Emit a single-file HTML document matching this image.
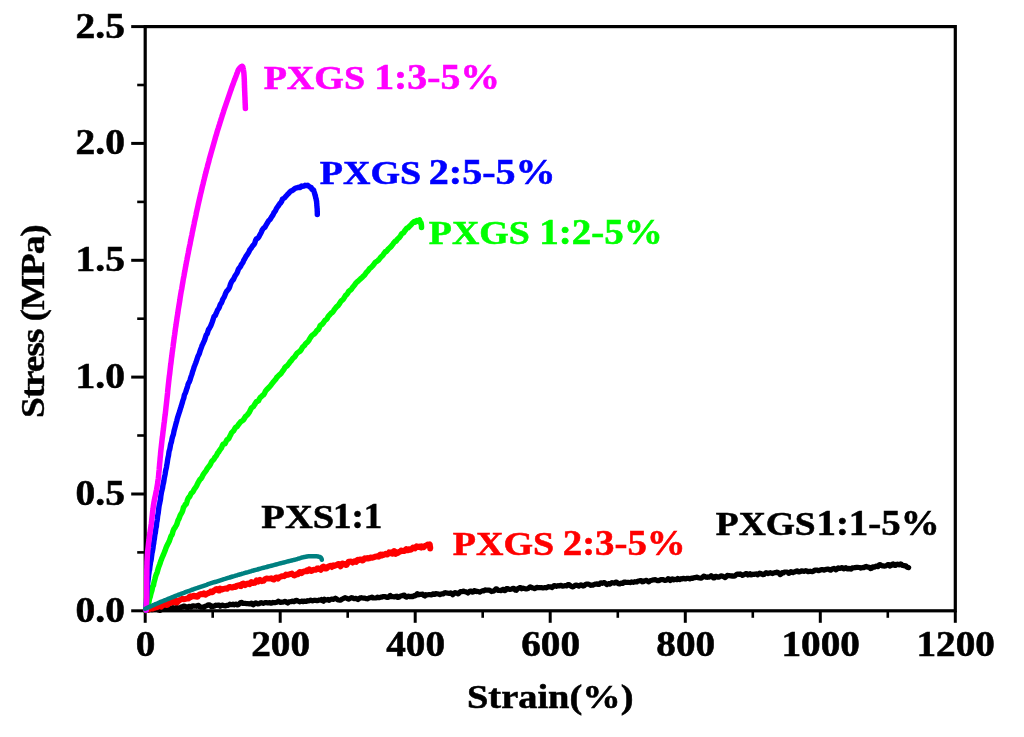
<!DOCTYPE html>
<html><head><meta charset="utf-8"><title>Stress-Strain</title>
<style>
html,body{margin:0;padding:0;background:#fff;}
svg{display:block;font-family:"Liberation Serif",serif;font-weight:bold;will-change:transform;}
</style></head><body>
<svg width="1024" height="737" viewBox="0 0 1024 737">
<rect width="1024" height="737" fill="#fff"/>
<rect x="145.2" y="26.6" width="810.1" height="584.2" fill="none" stroke="#000" stroke-width="3.2"/>
<line x1="145.2" y1="610.8" x2="145.2" y2="622.8" stroke="#000" stroke-width="3"/>
<line x1="212.7" y1="610.8" x2="212.7" y2="617.8" stroke="#000" stroke-width="2.6"/>
<line x1="280.2" y1="610.8" x2="280.2" y2="622.8" stroke="#000" stroke-width="3"/>
<line x1="347.7" y1="610.8" x2="347.7" y2="617.8" stroke="#000" stroke-width="2.6"/>
<line x1="415.2" y1="610.8" x2="415.2" y2="622.8" stroke="#000" stroke-width="3"/>
<line x1="482.7" y1="610.8" x2="482.7" y2="617.8" stroke="#000" stroke-width="2.6"/>
<line x1="550.2" y1="610.8" x2="550.2" y2="622.8" stroke="#000" stroke-width="3"/>
<line x1="617.8" y1="610.8" x2="617.8" y2="617.8" stroke="#000" stroke-width="2.6"/>
<line x1="685.3" y1="610.8" x2="685.3" y2="622.8" stroke="#000" stroke-width="3"/>
<line x1="752.8" y1="610.8" x2="752.8" y2="617.8" stroke="#000" stroke-width="2.6"/>
<line x1="820.3" y1="610.8" x2="820.3" y2="622.8" stroke="#000" stroke-width="3"/>
<line x1="887.8" y1="610.8" x2="887.8" y2="617.8" stroke="#000" stroke-width="2.6"/>
<line x1="955.3" y1="610.8" x2="955.3" y2="622.8" stroke="#000" stroke-width="3"/>
<line x1="145.2" y1="610.8" x2="131.2" y2="610.8" stroke="#000" stroke-width="3"/>
<line x1="145.2" y1="552.4" x2="137.2" y2="552.4" stroke="#000" stroke-width="2.6"/>
<line x1="145.2" y1="494.0" x2="131.2" y2="494.0" stroke="#000" stroke-width="3"/>
<line x1="145.2" y1="435.5" x2="137.2" y2="435.5" stroke="#000" stroke-width="2.6"/>
<line x1="145.2" y1="377.1" x2="131.2" y2="377.1" stroke="#000" stroke-width="3"/>
<line x1="145.2" y1="318.7" x2="137.2" y2="318.7" stroke="#000" stroke-width="2.6"/>
<line x1="145.2" y1="260.3" x2="131.2" y2="260.3" stroke="#000" stroke-width="3"/>
<line x1="145.2" y1="201.9" x2="137.2" y2="201.9" stroke="#000" stroke-width="2.6"/>
<line x1="145.2" y1="143.4" x2="131.2" y2="143.4" stroke="#000" stroke-width="3"/>
<line x1="145.2" y1="85.0" x2="137.2" y2="85.0" stroke="#000" stroke-width="2.6"/>
<line x1="145.2" y1="26.6" x2="131.2" y2="26.6" stroke="#000" stroke-width="3"/>
<text transform="translate(145.60,655.90) scale(1.1075,1)" font-size="35.4" fill="#000" stroke="#000" stroke-width="0.55" text-anchor="middle" >0</text>
<text transform="translate(280.62,655.90) scale(1.1075,1)" font-size="35.4" fill="#000" stroke="#000" stroke-width="0.55" text-anchor="middle" >200</text>
<text transform="translate(415.63,655.90) scale(1.1075,1)" font-size="35.4" fill="#000" stroke="#000" stroke-width="0.55" text-anchor="middle" >400</text>
<text transform="translate(550.65,655.90) scale(1.1075,1)" font-size="35.4" fill="#000" stroke="#000" stroke-width="0.55" text-anchor="middle" >600</text>
<text transform="translate(685.67,655.90) scale(1.1075,1)" font-size="35.4" fill="#000" stroke="#000" stroke-width="0.55" text-anchor="middle" >800</text>
<text transform="translate(820.68,655.90) scale(1.1075,1)" font-size="35.4" fill="#000" stroke="#000" stroke-width="0.55" text-anchor="middle" >1000</text>
<text transform="translate(955.70,655.90) scale(1.1075,1)" font-size="35.4" fill="#000" stroke="#000" stroke-width="0.55" text-anchor="middle" >1200</text>
<text transform="translate(124.90,621.70) scale(1.1158,1)" font-size="35.4" fill="#000" stroke="#000" stroke-width="0.55" text-anchor="end" >0.0</text>
<text transform="translate(124.90,504.86) scale(1.1158,1)" font-size="35.4" fill="#000" stroke="#000" stroke-width="0.55" text-anchor="end" >0.5</text>
<text transform="translate(124.90,388.02) scale(1.1158,1)" font-size="35.4" fill="#000" stroke="#000" stroke-width="0.55" text-anchor="end" >1.0</text>
<text transform="translate(124.90,271.18) scale(1.1158,1)" font-size="35.4" fill="#000" stroke="#000" stroke-width="0.55" text-anchor="end" >1.5</text>
<text transform="translate(124.90,154.34) scale(1.1158,1)" font-size="35.4" fill="#000" stroke="#000" stroke-width="0.55" text-anchor="end" >2.0</text>
<text transform="translate(124.90,37.50) scale(1.1158,1)" font-size="35.4" fill="#000" stroke="#000" stroke-width="0.55" text-anchor="end" >2.5</text>
<text transform="translate(467.00,707.80) scale(1.13,1)" font-size="34" fill="#000" stroke="#000" stroke-width="0.55" text-anchor="start" >Strain(%)</text>
<text transform="translate(44.2,321.7) rotate(-90) scale(1,0.92)" font-size="37.5" text-anchor="middle" letter-spacing="-1.15" stroke="#000" stroke-width="0.4">Stress (MPa)</text>
<text transform="translate(263.65,88.90) scale(1.1234,1)" font-size="33.85" fill="#ff00ff" stroke="#ff00ff" stroke-width="0.55" text-anchor="start" >PXGS</text>
<text transform="translate(374.25,88.90) scale(1.1232,1)" font-size="35.39" fill="#ff00ff" stroke="#ff00ff" stroke-width="0.55" text-anchor="start" >1:3-5%</text>
<text transform="translate(319.85,184.30) scale(1.1234,1)" font-size="33.85" fill="#0000ff" stroke="#0000ff" stroke-width="0.55" text-anchor="start" >PXGS</text>
<text transform="translate(428.75,184.30) scale(1.1329,1)" font-size="35.39" fill="#0000ff" stroke="#0000ff" stroke-width="0.55" text-anchor="start" >2:5-5%</text>
<text transform="translate(428.80,244.10) scale(1.0953,1)" font-size="34.6" fill="#00ff00" stroke="#00ff00" stroke-width="0.55" text-anchor="start" >PXGS</text>
<text transform="translate(539.25,244.10) scale(1.0783,1)" font-size="36.17" fill="#00ff00" stroke="#00ff00" stroke-width="0.55" text-anchor="start" >1:2-5%</text>
<text transform="translate(261.35,527.60) scale(1.1106,1)" font-size="34.7" fill="#000" stroke="#000" stroke-width="0.55" text-anchor="start" >PXS</text>
<text transform="translate(333.00,527.60) scale(1.0199,1)" font-size="36.28" fill="#000" stroke="#000" stroke-width="0.55" text-anchor="start" >1:1</text>
<text transform="translate(452.80,555.30) scale(1.0995,1)" font-size="34.6" fill="#ff0000" stroke="#ff0000" stroke-width="0.55" text-anchor="start" >PXGS</text>
<text transform="translate(562.75,555.30) scale(1.0744,1)" font-size="36.17" fill="#ff0000" stroke="#ff0000" stroke-width="0.55" text-anchor="start" >2:3-5%</text>
<text transform="translate(715.75,534.80) scale(1.1254,1)" font-size="33.3" fill="#000" stroke="#000" stroke-width="0.55" text-anchor="start" >PXGS</text>
<text transform="translate(816.50,534.80) scale(1.1167,1)" font-size="34.81" fill="#000" stroke="#000" stroke-width="0.55" text-anchor="start" >1:1-5%</text>
<path d="M145.9,610.5 L147.0,610.4 L148.0,610.3 L149.1,609.4 L150.2,609.2 L151.3,609.7 L152.3,609.7 L153.4,609.5 L154.5,609.4 L155.6,609.4 L156.6,608.8 L157.7,609.3 L158.8,610.1 L159.9,610.4 L160.9,609.9 L162.0,608.9 L163.1,608.6 L164.2,608.0 L165.2,608.6 L166.3,608.7 L167.4,607.7 L168.5,608.0 L169.5,609.0 L170.6,609.1 L171.7,608.0 L172.8,607.5 L173.8,608.1 L174.9,608.3 L176.0,607.6 L177.1,607.5 L178.1,608.1 L179.2,608.9 L180.3,608.0 L181.4,606.8 L182.5,606.9 L183.5,606.1 L184.6,606.0 L185.7,606.5 L186.8,607.3 L187.8,607.6 L188.9,606.4 L190.0,606.6 L191.1,607.1 L192.1,606.0 L193.2,605.8 L194.3,606.2 L195.4,606.1 L196.4,606.3 L197.5,605.6 L198.6,605.4 L199.7,606.7 L200.7,607.1 L201.8,607.1 L202.9,607.2 L204.0,607.3 L205.1,606.2 L206.1,605.9 L207.2,605.5 L208.3,604.8 L209.4,604.8 L210.4,605.4 L211.5,606.7 L212.6,606.1 L213.7,606.3 L214.7,606.0 L215.8,605.2 L216.9,605.5 L218.0,605.0 L219.1,605.0 L220.1,606.2 L221.2,605.6 L222.3,605.1 L223.4,605.4 L224.4,605.7 L225.5,605.9 L226.6,605.4 L227.7,605.4 L228.7,605.1 L229.8,604.2 L230.9,604.6 L232.0,604.6 L233.1,604.1 L234.1,604.8 L235.2,604.3 L236.3,604.1 L237.4,604.9 L238.4,604.7 L239.5,603.8 L240.6,602.5 L241.7,602.4 L242.7,603.4 L243.8,603.5 L244.9,603.3 L246.0,603.6 L247.1,603.7 L248.1,603.5 L249.2,604.0 L250.3,603.6 L251.4,603.1 L252.4,604.3 L253.5,604.8 L254.6,603.3 L255.7,602.8 L256.8,603.5 L257.8,604.0 L258.9,603.8 L260.0,603.0 L261.1,602.6 L262.1,603.0 L263.2,603.4 L264.3,602.9 L265.4,602.6 L266.4,602.6 L267.5,602.9 L268.6,602.8 L269.7,602.6 L270.8,603.2 L271.8,603.2 L272.9,602.4 L274.0,602.7 L275.1,602.7 L276.1,602.3 L277.2,602.2 L278.3,601.2 L279.4,601.6 L280.5,602.4 L281.5,602.2 L282.6,602.1 L283.7,601.9 L284.8,601.4 L285.8,601.5 L286.9,602.6 L288.0,603.0 L289.1,601.9 L290.1,601.7 L291.2,601.7 L292.3,601.2 L293.4,601.7 L294.5,601.6 L295.5,600.5 L296.6,600.3 L297.7,601.0 L298.8,601.4 L299.8,601.8 L300.9,601.4 L302.0,601.1 L303.1,601.6 L304.2,601.1 L305.2,601.3 L306.3,601.5 L307.4,600.7 L308.5,600.9 L309.5,600.7 L310.6,600.2 L311.7,600.7 L312.8,600.8 L313.9,600.4 L314.9,600.2 L316.0,600.4 L317.1,600.7 L318.2,600.4 L319.2,600.0 L320.3,600.1 L321.4,599.5 L322.5,600.7 L323.5,601.2 L324.6,599.3 L325.7,599.9 L326.8,600.0 L327.9,599.5 L328.9,600.3 L330.0,599.8 L331.1,599.2 L332.2,599.2 L333.2,599.3 L334.3,598.8 L335.4,598.2 L336.5,598.8 L337.6,599.7 L338.6,600.0 L339.7,600.2 L340.8,600.2 L341.9,599.2 L342.9,598.8 L344.0,598.1 L345.1,597.7 L346.2,598.1 L347.3,598.5 L348.3,599.2 L349.4,598.8 L350.5,598.2 L351.6,597.7 L352.6,597.9 L353.7,598.6 L354.8,598.7 L355.9,598.3 L356.9,598.9 L358.0,599.6 L359.1,598.7 L360.2,597.9 L361.3,597.7 L362.3,598.0 L363.4,598.1 L364.5,598.1 L365.6,598.4 L366.6,598.7 L367.7,598.8 L368.8,598.1 L369.9,597.8 L370.9,597.6 L372.0,597.1 L373.1,598.0 L374.2,598.0 L375.3,598.0 L376.3,598.0 L377.4,597.2 L378.5,597.7 L379.6,597.6 L380.6,597.2 L381.7,597.1 L382.8,596.6 L383.9,596.6 L385.0,596.5 L386.0,597.2 L387.1,597.3 L388.2,597.3 L389.3,596.2 L390.3,595.4 L391.4,596.7 L392.5,596.5 L393.6,596.7 L394.6,597.0 L395.7,596.4 L396.8,596.2 L397.9,597.5 L399.0,597.3 L400.0,596.2 L401.1,595.9 L402.2,595.7 L403.3,595.3 L404.3,595.1 L405.4,596.6 L406.5,597.1 L407.6,596.3 L408.6,596.2 L409.7,596.7 L410.8,596.4 L411.9,596.4 L413.0,596.6 L414.0,595.7 L415.1,595.9 L416.2,594.8 L417.3,593.7 L418.3,594.8 L419.4,594.6 L420.5,594.3 L421.6,594.4 L422.6,594.1 L423.7,595.5 L424.8,596.0 L425.9,594.7 L427.0,595.0 L428.0,594.8 L429.1,594.6 L430.2,594.8 L431.3,595.0 L432.3,594.2 L433.4,593.8 L434.5,594.4 L435.6,593.5 L436.6,593.8 L437.7,593.9 L438.8,594.0 L439.9,594.6 L441.0,594.1 L442.0,593.9 L443.1,593.9 L444.2,593.0 L445.3,592.6 L446.3,593.0 L447.4,593.1 L448.5,593.3 L449.6,593.3 L450.6,592.9 L451.7,593.4 L452.8,594.7 L453.9,593.7 L454.9,592.7 L456.0,592.8 L457.1,593.3 L458.2,593.9 L459.3,592.8 L460.3,591.7 L461.4,591.7 L462.5,591.4 L463.6,591.1 L464.6,591.6 L465.7,591.8 L466.8,592.2 L467.9,593.0 L468.9,591.9 L470.0,591.0 L471.1,591.1 L472.2,592.1 L473.3,591.9 L474.3,590.6 L475.4,590.9 L476.5,591.6 L477.6,591.3 L478.6,591.7 L479.7,592.1 L480.8,591.5 L481.9,591.0 L482.9,590.7 L484.0,590.9 L485.1,589.9 L486.2,590.0 L487.3,590.2 L488.3,590.0 L489.4,590.0 L490.5,590.9 L491.6,591.6 L492.6,591.0 L493.7,591.2 L494.8,590.2 L495.9,588.8 L496.9,589.1 L498.0,590.4 L499.1,590.5 L500.2,590.4 L501.2,590.7 L502.3,589.7 L503.4,589.3 L504.5,590.7 L505.6,590.3 L506.6,588.5 L507.7,588.6 L508.8,589.2 L509.9,589.4 L510.9,589.2 L512.0,589.0 L513.1,588.3 L514.2,588.6 L515.2,590.1 L516.3,590.3 L517.4,588.9 L518.5,588.4 L519.6,587.7 L520.6,587.6 L521.7,588.8 L522.8,588.2 L523.9,588.3 L524.9,588.7 L526.0,588.9 L527.1,588.8 L528.2,588.5 L529.2,587.5 L530.3,586.9 L531.4,587.4 L532.5,588.0 L533.6,588.1 L534.6,588.6 L535.7,588.1 L536.8,587.3 L537.9,587.7 L538.9,587.7 L540.0,587.7 L541.1,587.5 L542.2,587.8 L543.2,587.9 L544.3,587.7 L545.4,587.7 L546.5,587.8 L547.5,587.2 L548.6,586.7 L549.7,587.0 L550.8,586.8 L551.9,587.5 L552.9,586.8 L554.0,585.7 L555.1,585.7 L556.2,586.3 L557.2,585.8 L558.3,585.7 L559.4,585.9 L560.5,585.3 L561.5,585.6 L562.6,586.2 L563.7,586.0 L564.8,585.6 L565.9,585.8 L566.9,585.8 L568.0,584.6 L569.1,584.5 L570.2,585.6 L571.2,586.2 L572.3,586.9 L573.4,586.7 L574.5,585.8 L575.5,585.0 L576.6,585.0 L577.7,585.6 L578.8,586.1 L579.8,585.3 L580.9,584.8 L582.0,585.4 L583.1,586.1 L584.2,585.8 L585.2,584.7 L586.3,584.2 L587.4,584.2 L588.5,584.2 L589.5,584.6 L590.6,585.3 L591.7,585.2 L592.8,585.2 L593.8,584.6 L594.9,584.2 L596.0,584.1 L597.1,583.9 L598.2,584.5 L599.2,584.4 L600.3,583.1 L601.4,582.9 L602.5,583.3 L603.5,582.7 L604.6,582.6 L605.7,583.6 L606.8,584.6 L607.8,583.9 L608.9,583.6 L610.0,584.2 L611.1,583.2 L612.1,582.6 L613.2,583.0 L614.3,583.1 L615.4,582.3 L616.5,582.0 L617.5,583.1 L618.6,583.7 L619.7,584.0 L620.8,583.2 L621.8,583.2 L622.9,583.5 L624.0,582.1 L625.1,582.1 L626.1,582.4 L627.2,582.3 L628.3,582.3 L629.4,582.5 L630.5,582.6 L631.5,581.9 L632.6,582.2 L633.7,582.3 L634.8,581.7 L635.8,582.0 L636.9,582.0 L638.0,581.1 L639.1,581.0 L640.1,580.6 L641.2,580.5 L642.3,581.8 L643.4,581.6 L644.4,580.8 L645.5,580.6 L646.6,580.3 L647.7,581.3 L648.8,581.9 L649.8,580.9 L650.9,580.5 L652.0,580.3 L653.1,579.9 L654.1,579.8 L655.2,579.7 L656.3,580.2 L657.4,580.7 L658.4,580.7 L659.5,580.3 L660.6,579.5 L661.7,579.5 L662.8,579.6 L663.8,579.9 L664.9,580.5 L666.0,580.3 L667.1,579.9 L668.1,578.7 L669.2,579.2 L670.3,580.5 L671.4,579.3 L672.4,578.8 L673.5,579.9 L674.6,579.3 L675.7,579.5 L676.7,579.7 L677.8,578.4 L678.9,579.1 L680.0,579.6 L681.1,578.7 L682.1,578.9 L683.2,578.3 L684.3,578.6 L685.4,579.0 L686.4,578.3 L687.5,578.4 L688.6,578.4 L689.7,578.9 L690.7,578.3 L691.8,578.2 L692.9,578.3 L694.0,577.6 L695.0,577.6 L696.1,577.4 L697.2,577.1 L698.3,577.8 L699.4,578.0 L700.4,578.1 L701.5,578.2 L702.6,577.2 L703.7,576.2 L704.7,576.3 L705.8,577.1 L706.9,577.3 L708.0,576.8 L709.0,577.2 L710.1,576.7 L711.2,575.7 L712.3,576.4 L713.4,577.8 L714.4,577.9 L715.5,576.4 L716.6,576.4 L717.7,577.1 L718.7,577.2 L719.8,576.6 L720.9,575.8 L722.0,576.0 L723.0,576.4 L724.1,577.0 L725.2,577.6 L726.3,576.6 L727.3,575.4 L728.4,575.6 L729.5,575.7 L730.6,575.8 L731.7,576.1 L732.7,575.9 L733.8,576.2 L734.9,576.0 L736.0,574.9 L737.0,574.2 L738.1,574.2 L739.2,574.3 L740.3,573.9 L741.3,574.5 L742.4,575.3 L743.5,574.8 L744.6,574.3 L745.6,573.7 L746.7,573.6 L747.8,575.0 L748.9,574.4 L750.0,573.6 L751.0,574.8 L752.1,574.7 L753.2,574.2 L754.3,574.4 L755.3,574.0 L756.4,573.9 L757.5,574.9 L758.6,574.1 L759.6,573.1 L760.7,573.5 L761.8,574.2 L762.9,574.7 L763.9,574.5 L765.0,573.5 L766.1,572.7 L767.2,573.0 L768.3,573.6 L769.3,573.0 L770.4,572.7 L771.5,573.3 L772.6,573.6 L773.6,573.0 L774.7,572.7 L775.8,572.6 L776.9,572.1 L777.9,572.5 L779.0,573.2 L780.1,574.6 L781.2,574.0 L782.2,572.7 L783.3,573.0 L784.4,572.1 L785.5,572.0 L786.6,572.0 L787.6,572.2 L788.7,573.3 L789.8,572.8 L790.9,571.7 L791.9,572.2 L793.0,572.6 L794.1,571.8 L795.2,571.9 L796.2,571.0 L797.3,570.9 L798.4,572.0 L799.5,571.9 L800.5,571.5 L801.6,570.8 L802.7,571.0 L803.8,571.4 L804.9,571.1 L805.9,570.7 L807.0,571.0 L808.1,571.7 L809.2,571.4 L810.2,571.2 L811.3,571.5 L812.4,571.7 L813.5,571.2 L814.5,570.3 L815.6,570.0 L816.7,570.0 L817.8,570.4 L818.8,570.7 L819.9,570.2 L821.0,569.8 L822.1,569.5 L823.2,569.9 L824.2,570.1 L825.3,569.6 L826.4,569.4 L827.5,569.1 L828.5,569.0 L829.6,569.8 L830.7,570.2 L831.8,569.3 L832.8,568.7 L833.9,568.4 L835.0,569.0 L836.1,569.9 L837.1,569.0 L838.2,567.8 L839.3,568.3 L840.4,568.3 L841.5,567.6 L842.5,567.8 L843.6,568.8 L844.7,568.0 L845.8,567.7 L846.8,568.7 L847.9,569.0 L849.0,568.3 L850.1,568.8 L851.1,569.2 L852.2,567.8 L853.3,567.9 L854.4,567.7 L855.4,567.6 L856.5,567.4 L857.6,567.3 L858.7,567.5 L859.8,567.6 L860.8,568.1 L861.9,567.7 L863.0,567.4 L864.1,567.6 L865.1,566.7 L866.2,566.4 L867.3,567.2 L868.4,567.2 L869.4,567.3 L870.5,568.6 L871.6,568.2 L872.7,566.9 L873.7,566.9 L874.8,567.1 L875.9,566.1 L877.0,566.1 L878.0,566.6 L879.1,564.8 L880.2,564.6 L881.3,565.4 L882.4,565.9 L883.4,565.9 L884.5,566.1 L885.6,566.0 L886.7,565.5 L887.7,564.6 L888.8,564.7 L889.9,566.0 L891.0,565.6 L892.0,564.3 L893.1,563.8 L894.2,565.2 L895.3,565.5 L896.3,564.4 L897.4,564.2 L898.5,564.7 L899.3,564.8 L900.0,564.2 L900.8,563.9 L901.5,564.3 L902.2,565.4 L902.9,565.5 L903.6,565.6 L904.3,565.8 L905.0,565.6 L905.6,565.8 L906.2,566.1 L906.8,566.8 L907.4,567.4 L908.0,567.3 L908.6,567.6" fill="none" stroke="#000" stroke-width="5.2" stroke-linecap="round" stroke-linejoin="round"/>
<path d="M145.9,610.3 L146.7,610.0 L147.6,609.8 L148.4,609.4 L149.3,609.4 L150.1,608.0 L151.0,607.6 L151.8,608.4 L152.7,608.6 L153.5,607.5 L154.4,607.4 L155.2,607.7 L156.0,607.3 L156.9,607.3 L157.7,606.2 L158.6,606.0 L159.4,606.0 L160.3,606.3 L161.1,606.7 L162.0,605.7 L162.8,604.6 L163.7,604.4 L164.5,604.7 L165.4,603.8 L166.2,604.6 L167.1,605.1 L167.9,604.6 L168.8,603.6 L169.6,603.3 L170.5,603.0 L171.3,601.6 L172.2,602.3 L173.0,602.4 L173.9,600.7 L174.7,599.9 L175.6,601.2 L176.4,602.6 L177.3,602.4 L178.1,600.9 L179.0,600.6 L179.8,600.0 L180.7,599.6 L181.5,599.2 L182.4,598.8 L183.3,599.1 L184.1,599.3 L185.0,599.0 L185.8,598.9 L186.7,598.7 L187.5,598.3 L188.4,598.6 L189.2,597.0 L190.1,596.4 L190.9,597.1 L191.8,596.5 L192.7,596.3 L193.5,595.7 L194.4,595.7 L195.2,596.5 L196.1,596.1 L196.9,596.8 L197.8,596.6 L198.6,595.2 L199.5,594.5 L200.4,594.4 L201.2,594.0 L202.1,594.3 L202.9,594.2 L203.8,593.4 L204.6,594.5 L205.5,594.8 L206.4,593.7 L207.2,593.6 L208.1,593.3 L208.9,592.7 L209.8,592.6 L210.7,591.5 L211.5,591.5 L212.4,592.2 L213.2,591.6 L214.1,590.4 L215.0,590.1 L215.8,589.3 L216.7,589.0 L217.5,589.4 L218.4,590.5 L219.3,590.6 L220.1,588.6 L221.0,589.1 L221.9,589.6 L222.7,589.0 L223.6,589.0 L224.4,588.8 L225.3,588.4 L226.2,588.5 L227.0,588.8 L227.9,587.9 L228.8,587.3 L229.6,586.9 L230.5,586.9 L231.3,587.6 L232.2,587.6 L233.1,587.3 L233.9,586.7 L234.8,587.0 L235.7,586.8 L236.5,585.8 L237.4,585.6 L238.3,585.4 L239.1,585.3 L240.0,586.0 L240.9,586.2 L241.7,584.2 L242.6,583.6 L243.5,583.5 L244.3,584.0 L245.2,585.2 L246.1,584.3 L246.9,583.8 L247.8,583.7 L248.7,583.4 L249.5,584.2 L250.4,583.6 L251.3,582.0 L252.1,582.3 L253.0,583.0 L253.9,582.8 L254.7,582.9 L255.6,582.0 L256.5,580.4 L257.3,581.0 L258.2,581.6 L259.1,580.3 L259.9,579.8 L260.8,580.7 L261.7,581.2 L262.5,580.6 L263.4,580.8 L264.3,580.1 L265.1,579.0 L266.0,578.7 L266.9,578.5 L267.7,578.6 L268.6,578.6 L269.5,578.6 L270.3,578.6 L271.2,578.3 L272.1,578.7 L272.9,579.3 L273.8,579.6 L274.7,578.7 L275.5,577.9 L276.4,577.4 L277.3,577.6 L278.1,578.5 L279.0,577.5 L279.9,576.9 L280.7,576.9 L281.6,576.3 L282.5,576.3 L283.4,576.0 L284.2,576.2 L285.1,575.5 L286.0,574.5 L286.8,575.0 L287.7,574.7 L288.6,574.7 L289.4,574.3 L290.3,574.0 L291.2,573.9 L292.0,573.6 L292.9,574.4 L293.8,575.4 L294.6,575.5 L295.5,575.0 L296.4,574.3 L297.2,574.4 L298.1,574.1 L299.0,572.7 L299.8,572.0 L300.7,572.1 L301.6,573.1 L302.4,572.5 L303.3,571.6 L304.2,571.5 L305.0,571.3 L305.9,571.1 L306.8,570.4 L307.6,571.2 L308.5,570.7 L309.4,569.4 L310.3,570.4 L311.1,571.1 L312.0,570.7 L312.9,569.9 L313.7,569.8 L314.6,569.6 L315.5,569.9 L316.3,569.6 L317.2,568.5 L318.1,568.3 L318.9,568.7 L319.8,569.3 L320.7,569.9 L321.5,568.9 L322.4,567.2 L323.3,566.5 L324.1,568.1 L325.0,568.4 L325.9,567.4 L326.7,568.4 L327.6,567.6 L328.5,566.4 L329.3,566.3 L330.2,565.7 L331.1,566.2 L331.9,567.0 L332.8,565.5 L333.7,565.3 L334.5,565.9 L335.4,565.4 L336.3,565.4 L337.1,564.5 L338.0,564.0 L338.9,564.0 L339.7,564.9 L340.6,566.3 L341.5,565.2 L342.3,563.4 L343.2,563.7 L344.1,564.0 L344.9,564.1 L345.8,565.0 L346.7,564.8 L347.5,563.4 L348.4,561.9 L349.3,561.6 L350.1,561.8 L351.0,561.5 L351.8,562.0 L352.7,562.6 L353.6,561.8 L354.4,561.1 L355.3,561.2 L356.2,561.9 L357.0,560.4 L357.9,559.7 L358.8,560.3 L359.6,559.6 L360.5,559.4 L361.4,559.7 L362.2,560.6 L363.1,560.3 L364.0,559.0 L364.8,558.2 L365.7,558.6 L366.6,558.6 L367.4,558.0 L368.3,558.5 L369.1,558.4 L370.0,557.7 L370.9,557.4 L371.7,557.8 L372.6,557.7 L373.5,557.2 L374.3,557.2 L375.2,556.7 L376.1,556.5 L376.9,556.3 L377.8,556.5 L378.7,556.7 L379.5,555.1 L380.4,554.5 L381.2,555.7 L382.1,555.5 L383.0,554.6 L383.8,555.0 L384.7,554.5 L385.6,553.8 L386.4,554.4 L387.3,554.6 L388.1,553.6 L389.0,552.4 L389.9,553.4 L390.7,553.4 L391.6,552.5 L392.5,553.8 L393.3,553.5 L394.2,551.0 L395.0,552.4 L395.9,553.8 L396.8,552.3 L397.6,553.0 L398.5,552.6 L399.3,551.7 L400.2,551.6 L401.1,550.5 L401.9,550.6 L402.8,551.0 L403.7,551.1 L404.5,551.0 L405.4,549.9 L406.2,549.1 L407.1,550.1 L408.0,550.3 L408.8,549.1 L409.7,549.3 L410.6,549.8 L411.4,549.5 L412.3,548.4 L413.1,547.4 L414.0,547.8 L414.9,548.4 L415.7,547.3 L416.6,546.3 L417.5,546.6 L418.3,547.1 L419.2,546.5 L420.1,547.2 L421.0,547.6 L421.8,546.4 L422.7,547.3 L423.6,547.2 L424.4,546.3 L425.3,545.8 L426.2,545.5 L427.1,544.9 L427.9,544.5 L428.8,544.9 L429.7,544.4 L429.8,545.1 L429.8,546.1 L429.9,544.9 L429.9,545.3 L430.0,546.0 L430.0,546.2 L430.1,546.5 L430.1,546.3 L430.2,547.1 L430.2,548.5 L430.3,547.8" fill="none" stroke="#ff0000" stroke-width="5.9" stroke-linecap="round" stroke-linejoin="round"/>
<path d="M146.0,610.3 L146.5,608.8 L147.1,607.3 L147.6,606.6 L148.1,604.2 L148.5,603.3 L149.0,601.5 L149.4,599.2 L149.8,598.0 L150.3,596.6 L150.7,594.5 L151.1,593.0 L151.5,591.8 L151.9,590.5 L152.3,588.5 L152.7,586.5 L153.1,586.0 L153.5,585.3 L153.9,582.9 L154.4,580.9 L154.8,579.5 L155.3,577.5 L155.7,576.0 L156.2,574.6 L156.6,573.8 L157.1,572.6 L157.6,570.8 L158.1,568.9 L158.6,567.3 L159.1,565.9 L159.6,564.7 L160.2,563.0 L160.7,561.2 L161.3,559.9 L161.8,558.4 L162.4,557.0 L163.0,555.6 L163.5,554.5 L164.1,553.0 L164.7,551.6 L165.3,550.0 L166.0,547.8 L166.6,546.5 L167.2,545.3 L167.8,543.9 L168.5,542.8 L169.1,541.6 L169.7,539.9 L170.4,537.9 L171.0,536.2 L171.6,535.4 L172.3,534.0 L172.9,531.6 L173.6,529.8 L174.2,528.6 L174.9,527.8 L175.5,526.5 L176.2,525.5 L176.8,524.3 L177.5,522.1 L178.1,520.2 L178.8,519.1 L179.4,517.7 L180.1,515.6 L180.7,514.4 L181.4,513.3 L182.1,512.1 L182.7,510.6 L183.4,507.7 L184.1,506.5 L184.8,505.5 L185.4,504.3 L186.2,504.2 L186.9,502.0 L187.6,499.6 L188.4,497.8 L189.1,497.2 L189.9,496.2 L190.7,494.3 L191.5,492.9 L192.4,492.5 L193.2,491.4 L194.1,489.5 L194.9,488.3 L195.8,487.1 L196.6,485.8 L197.5,483.9 L198.4,482.1 L199.2,480.8 L200.1,479.2 L201.0,478.6 L201.9,477.3 L202.7,475.5 L203.6,474.1 L204.5,472.6 L205.3,471.8 L206.2,470.5 L207.1,468.7 L207.9,467.7 L208.8,466.7 L209.7,465.5 L210.6,464.1 L211.5,461.8 L212.3,460.7 L213.2,460.1 L214.1,458.9 L215.0,457.1 L215.9,456.4 L216.8,454.9 L217.7,453.0 L218.6,452.1 L219.5,450.4 L220.4,449.3 L221.4,448.1 L222.3,445.7 L223.2,444.1 L224.1,443.8 L225.1,443.7 L226.0,441.7 L227.0,439.6 L227.9,439.4 L228.9,438.3 L229.8,436.4 L230.8,434.4 L231.7,432.6 L232.7,431.6 L233.6,430.8 L234.6,429.0 L235.6,427.3 L236.6,426.9 L237.5,426.1 L238.5,424.5 L239.5,423.2 L240.5,422.0 L241.5,421.2 L242.4,420.8 L243.4,419.9 L244.4,418.4 L245.4,416.6 L246.4,415.7 L247.4,414.8 L248.4,413.5 L249.4,412.1 L250.4,410.1 L251.4,407.9 L252.4,407.2 L253.4,406.5 L254.4,404.9 L255.4,403.4 L256.4,401.7 L257.5,401.3 L258.5,400.7 L259.5,398.6 L260.5,397.3 L261.5,396.6 L262.5,395.4 L263.5,394.8 L264.5,393.4 L265.6,390.9 L266.6,389.7 L267.6,388.7 L268.6,387.7 L269.6,386.7 L270.7,385.5 L271.7,384.0 L272.7,382.8 L273.7,381.5 L274.7,380.4 L275.8,379.2 L276.8,377.4 L277.8,376.5 L278.8,375.4 L279.9,374.5 L280.9,373.7 L281.9,372.1 L282.9,370.8 L284.0,369.4 L285.0,367.3 L286.0,366.5 L287.1,365.9 L288.1,364.5 L289.1,363.4 L290.1,361.8 L291.2,360.7 L292.2,359.2 L293.2,358.0 L294.3,357.3 L295.3,356.0 L296.3,354.2 L297.4,352.9 L298.4,352.2 L299.4,351.6 L300.5,350.6 L301.5,349.1 L302.5,347.2 L303.6,346.2 L304.6,345.4 L305.6,343.7 L306.6,342.8 L307.7,341.9 L308.7,340.6 L309.7,338.7 L310.8,337.1 L311.8,335.7 L312.8,334.8 L313.9,334.2 L314.9,333.2 L315.9,332.0 L316.9,330.4 L318.0,329.8 L319.0,328.4 L320.0,325.9 L321.1,324.9 L322.1,324.3 L323.1,323.2 L324.1,321.6 L325.2,320.1 L326.2,319.6 L327.2,318.5 L328.2,316.4 L329.3,315.3 L330.3,314.2 L331.3,313.0 L332.3,312.5 L333.4,311.2 L334.4,309.5 L335.4,308.3 L336.4,307.0 L337.4,306.2 L338.4,305.2 L339.5,303.6 L340.5,301.8 L341.5,300.7 L342.5,300.1 L343.5,298.9 L344.5,297.3 L345.6,295.4 L346.6,294.6 L347.6,293.5 L348.6,291.5 L349.7,290.6 L350.7,289.9 L351.7,288.8 L352.7,287.3 L353.8,286.0 L354.8,284.8 L355.9,283.1 L356.9,282.0 L358.0,281.2 L359.0,280.3 L360.1,279.3 L361.1,278.3 L362.2,277.4 L363.3,276.2 L364.4,275.2 L365.4,273.9 L366.5,272.3 L367.6,271.3 L368.7,269.9 L369.8,268.3 L370.9,267.7 L372.0,266.5 L373.1,265.3 L374.2,263.9 L375.3,262.3 L376.4,261.7 L377.5,260.9 L378.6,260.0 L379.7,258.6 L380.8,257.1 L381.9,256.2 L383.0,255.1 L384.1,253.3 L385.2,251.8 L386.3,251.6 L387.4,250.2 L388.5,248.8 L389.6,247.9 L390.7,246.9 L391.8,245.6 L392.9,244.1 L394.0,242.5 L395.1,241.3 L396.2,241.2 L397.2,239.5 L398.3,238.4 L399.4,237.5 L400.5,235.9 L401.5,234.0 L402.6,233.2 L403.7,232.7 L404.7,230.9 L405.8,229.6 L406.8,228.2 L407.9,227.9 L409.0,226.9 L410.1,225.7 L411.2,224.6 L412.3,223.3 L413.5,222.1 L414.1,221.6 L414.8,222.3 L415.4,222.0 L416.1,221.0 L416.7,220.5 L417.4,220.6 L418.0,221.3 L418.7,220.5 L419.5,219.9 L420.0,221.6 L420.4,222.7 L420.8,222.5 L421.1,223.3 L421.3,224.4 L421.4,225.2 L421.4,225.4 L421.5,226.5 L421.5,227.3 L421.5,227.0 L421.5,227.5" fill="none" stroke="#00ff00" stroke-width="5.5" stroke-linecap="round" stroke-linejoin="round"/>
<path d="M146.0,610.2 L146.1,608.7 L146.2,607.1 L146.3,605.4 L146.4,603.0 L146.5,602.1 L146.6,601.7 L146.6,599.4 L146.7,598.0 L146.8,596.8 L146.9,595.6 L146.9,594.4 L147.0,591.9 L147.1,590.6 L147.2,589.2 L147.3,587.3 L147.5,585.8 L147.6,584.2 L147.7,582.8 L147.9,581.6 L148.1,580.0 L148.3,578.8 L148.5,576.7 L148.7,574.5 L148.9,573.7 L149.1,571.9 L149.3,570.6 L149.6,569.7 L149.8,567.7 L150.0,566.1 L150.3,564.4 L150.5,562.3 L150.8,561.2 L151.0,560.5 L151.3,558.7 L151.5,556.9 L151.8,554.7 L152.0,552.9 L152.3,551.9 L152.5,550.8 L152.7,549.8 L153.0,548.1 L153.2,545.9 L153.4,544.8 L153.7,543.5 L153.9,541.3 L154.1,540.2 L154.4,538.8 L154.6,536.8 L154.8,535.2 L155.0,534.0 L155.3,533.1 L155.5,531.4 L155.7,529.6 L155.9,528.1 L156.2,527.2 L156.4,526.3 L156.6,523.9 L156.8,522.0 L157.1,521.0 L157.3,519.5 L157.5,517.4 L157.7,515.7 L157.9,514.7 L158.2,513.3 L158.4,511.3 L158.6,509.8 L158.8,508.2 L159.1,505.9 L159.3,504.8 L159.5,504.2 L159.8,502.8 L160.0,501.4 L160.3,500.4 L160.6,498.5 L160.8,496.2 L161.1,494.6 L161.4,492.8 L161.7,491.3 L162.0,490.3 L162.3,488.8 L162.6,487.7 L162.9,485.5 L163.2,483.9 L163.5,482.9 L163.8,481.4 L164.0,480.1 L164.3,478.0 L164.6,476.7 L164.9,475.3 L165.2,473.7 L165.4,472.2 L165.7,470.4 L166.0,469.1 L166.2,468.4 L166.5,467.0 L166.8,464.9 L167.1,463.7 L167.3,462.2 L167.6,460.1 L167.9,458.3 L168.2,456.9 L168.5,455.7 L168.7,454.0 L169.0,451.8 L169.3,450.5 L169.7,449.6 L170.0,448.0 L170.3,446.2 L170.6,444.5 L171.0,443.1 L171.3,442.4 L171.6,441.1 L172.0,438.7 L172.4,437.4 L172.7,436.3 L173.1,435.3 L173.5,433.9 L173.9,431.6 L174.2,430.3 L174.6,428.9 L175.0,427.4 L175.4,425.9 L175.8,424.3 L176.3,422.6 L176.7,421.1 L177.1,419.4 L177.5,417.9 L177.9,416.6 L178.4,415.2 L178.8,413.8 L179.3,412.4 L179.7,411.2 L180.1,409.7 L180.6,408.1 L181.1,406.8 L181.5,405.2 L182.0,403.6 L182.4,402.4 L182.9,400.4 L183.4,399.1 L183.8,398.0 L184.3,395.2 L184.8,394.0 L185.2,393.3 L185.7,392.0 L186.2,390.6 L186.7,388.8 L187.1,387.9 L187.6,386.2 L188.1,384.2 L188.6,383.0 L189.1,382.3 L189.6,381.2 L190.1,379.8 L190.6,378.1 L191.1,376.4 L191.6,375.1 L192.1,373.7 L192.6,371.7 L193.1,370.3 L193.6,368.9 L194.1,367.0 L194.6,365.8 L195.1,364.5 L195.6,363.3 L196.1,362.0 L196.7,360.2 L197.2,358.6 L197.7,357.1 L198.3,355.6 L198.8,354.8 L199.3,353.6 L199.9,351.6 L200.4,349.9 L201.0,348.4 L201.5,347.1 L202.1,345.3 L202.7,344.2 L203.2,343.1 L203.8,341.7 L204.4,340.7 L204.9,339.2 L205.5,337.1 L206.1,335.2 L206.7,334.4 L207.3,333.6 L207.9,331.5 L208.5,329.5 L209.1,328.9 L209.7,327.8 L210.3,326.7 L210.9,325.5 L211.6,323.7 L212.2,322.1 L212.8,320.3 L213.4,318.5 L214.1,316.4 L214.7,315.8 L215.4,315.5 L216.0,313.6 L216.7,312.3 L217.3,310.6 L218.0,309.4 L218.6,308.6 L219.3,307.3 L220.0,305.2 L220.7,303.7 L221.3,303.2 L222.0,301.5 L222.7,299.5 L223.4,298.2 L224.1,297.2 L224.8,295.5 L225.5,293.6 L226.2,292.1 L226.9,291.0 L227.6,290.3 L228.3,289.5 L229.0,288.3 L229.7,286.8 L230.4,284.4 L231.1,282.7 L231.8,281.4 L232.6,280.2 L233.3,279.7 L234.0,278.3 L234.8,276.4 L235.5,275.3 L236.2,274.3 L237.0,273.1 L237.7,271.2 L238.4,269.3 L239.2,268.1 L239.9,267.3 L240.7,266.2 L241.4,264.3 L242.2,263.5 L243.0,262.3 L243.7,260.3 L244.5,259.2 L245.3,257.6 L246.0,256.3 L246.8,255.3 L247.6,254.0 L248.4,252.8 L249.2,251.2 L250.0,249.5 L250.7,248.7 L251.5,247.7 L252.3,246.4 L253.1,245.3 L254.0,244.5 L254.8,243.0 L255.6,240.3 L256.4,238.9 L257.2,238.6 L258.0,238.0 L258.9,236.9 L259.7,235.2 L260.5,233.9 L261.4,232.1 L262.2,230.1 L263.1,228.8 L263.9,227.9 L264.8,227.4 L265.6,225.9 L266.5,224.4 L267.4,222.9 L268.2,221.4 L269.1,220.3 L269.9,219.7 L270.7,218.5 L271.6,216.9 L272.4,215.8 L273.2,214.5 L274.0,212.6 L274.8,211.7 L275.6,210.5 L276.4,208.7 L277.2,207.4 L278.1,206.3 L278.9,205.0 L279.8,203.6 L280.7,203.0 L281.6,201.4 L282.5,199.1 L283.5,198.5 L284.4,198.0 L285.5,196.7 L286.5,195.7 L287.6,194.3 L288.8,193.2 L290.0,191.8 L291.2,190.8 L292.5,190.5 L293.8,189.4 L295.1,188.3 L296.5,187.9 L297.8,187.4 L298.4,187.3 L299.1,187.5 L299.8,187.6 L300.4,187.3 L301.1,186.4 L301.7,185.9 L302.4,186.4 L303.1,186.2 L303.7,186.1 L304.4,185.9 L305.1,185.3 L305.8,185.4 L306.5,185.5 L307.1,185.4 L307.7,185.3 L308.3,185.8 L308.9,186.3 L309.5,186.6 L310.1,187.1 L310.7,187.4 L311.2,187.6 L311.6,188.6 L312.0,189.3 L312.5,189.5 L312.9,189.8 L313.2,189.7 L313.6,190.1 L313.9,191.1 L314.1,191.7 L314.4,192.7 L314.6,193.5 L314.8,193.8 L315.0,195.1 L315.2,195.8 L315.4,195.7 L315.6,197.4 L315.8,198.3 L315.9,198.2 L316.1,198.6 L316.2,199.6 L316.3,200.8 L316.4,200.3 L316.5,200.6 L316.6,202.1 L316.7,203.0 L316.7,203.2 L316.8,203.7 L316.8,205.3 L316.9,206.3 L316.9,206.1 L317.0,206.5 L317.0,207.3 L317.1,208.1 L317.1,208.1 L317.2,208.8 L317.2,210.5 L317.2,211.3 L317.3,211.5 L317.3,211.8 L317.3,212.5 L317.3,213.4 L317.3,214.5" fill="none" stroke="#0000ff" stroke-width="5.4" stroke-linecap="round" stroke-linejoin="round"/>
<path d="M146.2,610.0 L146.3,608.2 L146.4,606.3 L146.5,604.5 L146.5,602.7 L146.6,600.8 L146.6,599.0 L146.7,597.2 L146.7,595.3 L146.7,593.5 L146.7,591.7 L146.7,589.8 L146.7,588.0 L146.7,586.1 L146.7,584.3 L146.7,582.5 L146.7,580.6 L146.7,578.8 L146.7,576.9 L146.8,575.1 L146.8,573.3 L146.8,571.4 L146.8,569.6 L146.9,567.7 L146.9,565.9 L147.0,564.1 L147.0,562.2 L147.1,560.4 L147.2,558.6 L147.3,556.7 L147.4,554.9 L147.6,553.1 L147.7,551.3 L147.9,549.4 L148.1,547.6 L148.3,545.8 L148.5,543.9 L148.7,542.1 L149.0,540.3 L149.2,538.5 L149.5,536.7 L149.7,534.8 L150.0,533.0 L150.2,531.2 L150.5,529.4 L150.8,527.5 L151.0,525.7 L151.3,523.9 L151.5,522.1 L151.7,520.3 L151.9,518.4 L152.1,516.6 L152.3,514.8 L152.5,512.9 L152.7,511.1 L153.0,509.3 L153.2,507.5 L153.4,505.7 L153.7,503.9 L154.0,502.0 L154.4,500.2 L154.7,498.4 L155.1,496.6 L155.5,494.9 L155.8,493.1 L156.2,491.3 L156.6,489.5 L156.9,487.7 L157.2,485.9 L157.5,484.1 L157.8,482.2 L158.0,480.4 L158.3,478.6 L158.5,476.8 L158.7,474.9 L158.8,473.1 L159.0,471.3 L159.2,469.5 L159.3,467.6 L159.5,465.8 L159.6,464.0 L159.8,462.1 L160.0,460.3 L160.1,458.5 L160.3,456.6 L160.5,454.8 L160.6,453.0 L160.8,451.1 L161.0,449.3 L161.2,447.5 L161.4,445.7 L161.6,443.8 L161.8,442.0 L162.0,440.2 L162.2,438.4 L162.5,436.5 L162.7,434.7 L162.9,432.9 L163.1,431.1 L163.4,429.2 L163.6,427.4 L163.8,425.6 L164.0,423.8 L164.3,421.9 L164.5,420.1 L164.7,418.3 L164.9,416.5 L165.2,414.7 L165.4,412.8 L165.6,411.0 L165.8,409.2 L166.0,407.3 L166.2,405.5 L166.4,403.7 L166.6,401.9 L166.8,400.0 L167.0,398.2 L167.2,396.4 L167.4,394.6 L167.6,392.7 L167.7,390.9 L167.9,389.1 L168.1,387.2 L168.3,385.4 L168.5,383.6 L168.7,381.8 L168.9,379.9 L169.1,378.1 L169.3,376.3 L169.6,374.5 L169.8,372.6 L170.0,370.8 L170.2,369.0 L170.4,367.2 L170.6,365.3 L170.9,363.5 L171.1,361.7 L171.3,359.9 L171.5,358.1 L171.8,356.2 L172.0,354.4 L172.2,352.6 L172.5,350.8 L172.7,348.9 L173.0,347.1 L173.2,345.3 L173.4,343.5 L173.7,341.7 L173.9,339.8 L174.2,338.0 L174.4,336.2 L174.7,334.4 L174.9,332.6 L175.2,330.7 L175.4,328.9 L175.7,327.1 L176.0,325.3 L176.2,323.5 L176.5,321.6 L176.8,319.8 L177.0,318.0 L177.3,316.2 L177.6,314.4 L177.9,312.5 L178.1,310.7 L178.4,308.9 L178.7,307.1 L179.0,305.3 L179.3,303.5 L179.6,301.7 L179.9,299.8 L180.1,298.0 L180.4,296.2 L180.7,294.4 L181.0,292.6 L181.3,290.8 L181.7,289.0 L182.0,287.1 L182.3,285.3 L182.6,283.5 L182.9,281.7 L183.2,279.9 L183.5,278.1 L183.9,276.3 L184.2,274.5 L184.5,272.7 L184.9,270.9 L185.2,269.1 L185.5,267.3 L185.9,265.4 L186.2,263.6 L186.5,261.8 L186.9,260.0 L187.2,258.2 L187.6,256.4 L187.9,254.6 L188.3,252.8 L188.6,251.0 L189.0,249.2 L189.3,247.4 L189.7,245.6 L190.1,243.8 L190.4,242.0 L190.8,240.2 L191.1,238.4 L191.5,236.6 L191.9,234.8 L192.2,233.0 L192.6,231.2 L193.0,229.4 L193.3,227.6 L193.7,225.8 L194.1,224.0 L194.4,222.2 L194.8,220.4 L195.2,218.6 L195.6,216.8 L196.0,215.0 L196.3,213.2 L196.7,211.4 L197.1,209.6 L197.5,207.8 L197.9,206.0 L198.3,204.2 L198.7,202.4 L199.1,200.6 L199.5,198.8 L199.9,197.1 L200.3,195.3 L200.7,193.5 L201.2,191.7 L201.6,189.9 L202.0,188.1 L202.4,186.3 L202.9,184.5 L203.3,182.8 L203.7,181.0 L204.2,179.2 L204.6,177.4 L205.1,175.6 L205.5,173.8 L206.0,172.1 L206.4,170.3 L206.9,168.5 L207.4,166.7 L207.8,164.9 L208.3,163.2 L208.8,161.4 L209.2,159.6 L209.7,157.8 L210.2,156.1 L210.7,154.3 L211.2,152.5 L211.7,150.8 L212.2,149.0 L212.7,147.2 L213.2,145.4 L213.7,143.7 L214.2,141.9 L214.7,140.2 L215.2,138.4 L215.7,136.6 L216.3,134.9 L216.8,133.1 L217.3,131.3 L217.8,129.6 L218.4,127.8 L218.9,126.1 L219.5,124.3 L220.0,122.6 L220.6,120.8 L221.1,119.1 L221.7,117.3 L222.2,115.6 L222.8,113.8 L223.4,112.1 L223.9,110.3 L224.5,108.6 L225.1,106.8 L225.7,105.1 L226.3,103.3 L226.9,101.6 L227.5,99.9 L228.1,98.1 L228.7,96.4 L229.3,94.7 L229.9,92.9 L230.5,91.2 L231.1,89.5 L231.7,87.7 L232.3,86.0 L233.0,84.3 L233.6,82.5 L234.2,80.8 L234.9,79.1 L235.5,77.4 L236.2,75.7 L236.8,73.9 L237.5,72.2 L238.1,70.5 L238.4,69.8 L238.8,69.2 L239.2,68.7 L239.7,68.1 L240.1,67.7 L240.6,67.2 L241.1,66.8 L241.8,66.3 L242.2,66.2 L242.6,66.7 L242.9,67.4 L243.1,68.2 L243.3,68.9 L243.4,69.6 L243.5,70.2 L243.6,70.9 L243.7,71.6 L243.8,72.3 L243.9,73.0 L243.9,73.7 L244.0,74.4 L244.0,75.0 L244.1,75.7 L244.1,76.4 L244.2,77.1 L244.2,77.8 L244.2,78.5 L244.3,79.1 L244.3,79.8 L244.3,80.5 L244.3,81.2 L244.4,81.9 L244.4,82.6 L244.4,83.3 L244.4,83.9 L244.4,84.6 L244.5,85.3 L244.5,86.0 L244.5,86.7 L244.5,87.4 L244.6,88.1 L244.6,88.7 L244.6,89.4 L244.6,90.1 L244.7,90.8 L244.7,91.5 L244.7,92.2 L244.8,92.9 L244.8,93.5 L244.8,94.2 L244.8,94.9 L244.9,95.6 L244.9,96.3 L244.9,97.0 L245.0,97.6 L245.0,98.3 L245.0,99.0 L245.0,99.7 L245.1,100.4 L245.1,101.1 L245.1,101.8 L245.1,102.4 L245.2,103.1 L245.2,103.8 L245.2,104.5 L245.3,105.2 L245.3,105.9 L245.3,106.5 L245.3,107.2 L245.4,107.9 L245.4,108.6" fill="none" stroke="#ff00ff" stroke-width="5.5" stroke-linecap="round" stroke-linejoin="round"/>
<path d="M145.3,608.7 L146.8,608.0 L148.2,607.4 L149.7,606.7 L151.2,606.1 L152.6,605.4 L154.1,604.8 L155.6,604.1 L157.1,603.5 L158.5,602.9 L160.0,602.2 L161.5,601.6 L163.0,601.0 L164.5,600.4 L166.0,599.8 L167.4,599.2 L168.9,598.6 L170.4,598.0 L171.9,597.4 L173.4,596.8 L174.9,596.2 L176.4,595.6 L177.9,595.0 L179.4,594.5 L180.9,593.9 L182.4,593.3 L183.9,592.8 L185.4,592.2 L186.9,591.6 L188.4,591.1 L189.9,590.6 L191.4,590.0 L193.0,589.5 L194.5,588.9 L196.0,588.4 L197.5,587.9 L199.0,587.3 L200.5,586.8 L202.1,586.3 L203.6,585.8 L205.1,585.3 L206.6,584.8 L208.1,584.2 L209.7,583.7 L211.2,583.2 L212.7,582.7 L214.2,582.2 L215.8,581.8 L217.3,581.3 L218.8,580.8 L220.4,580.3 L221.9,579.8 L223.4,579.3 L225.0,578.9 L226.5,578.4 L228.0,577.9 L229.6,577.5 L231.1,577.0 L232.7,576.5 L234.2,576.1 L235.7,575.6 L237.3,575.2 L238.8,574.7 L240.4,574.3 L241.9,573.8 L243.5,573.4 L245.0,572.9 L246.5,572.5 L248.1,572.1 L249.6,571.6 L251.2,571.2 L252.7,570.7 L254.3,570.3 L255.8,569.9 L257.4,569.5 L258.9,569.0 L260.5,568.6 L262.0,568.2 L263.6,567.8 L265.1,567.4 L266.7,567.0 L268.2,566.5 L269.8,566.1 L271.4,565.7 L272.9,565.3 L274.5,564.9 L276.0,564.5 L277.6,564.1 L279.1,563.7 L280.7,563.3 L282.2,562.9 L283.8,562.5 L285.4,562.1 L286.9,561.7 L288.5,561.3 L290.0,560.9 L291.6,560.5 L293.1,560.1 L294.7,559.7 L296.2,559.4 L296.9,559.1 L297.6,558.9 L298.2,558.7 L298.9,558.5 L299.5,558.3 L300.2,558.1 L300.8,557.9 L301.5,557.7 L302.2,557.5 L302.8,557.4 L303.5,557.2 L304.2,557.1 L304.8,556.9 L305.5,556.8 L306.2,556.7 L306.9,556.5 L307.5,556.4 L308.2,556.3 L308.9,556.2 L309.6,556.2 L310.3,556.2 L310.9,556.2 L311.6,556.2 L312.3,556.2 L313.0,556.2 L313.7,556.2 L314.4,556.2 L315.1,556.2 L315.8,556.2 L316.4,556.3 L317.2,556.3 L317.9,556.5 L318.6,556.6 L319.3,556.8 L319.9,557.0 L320.5,557.3 L320.9,557.7 L321.2,558.2 L321.6,558.9 L321.8,559.7" fill="none" stroke="#008080" stroke-width="4.5" stroke-linecap="round" stroke-linejoin="round"/>
</svg>
</body></html>
